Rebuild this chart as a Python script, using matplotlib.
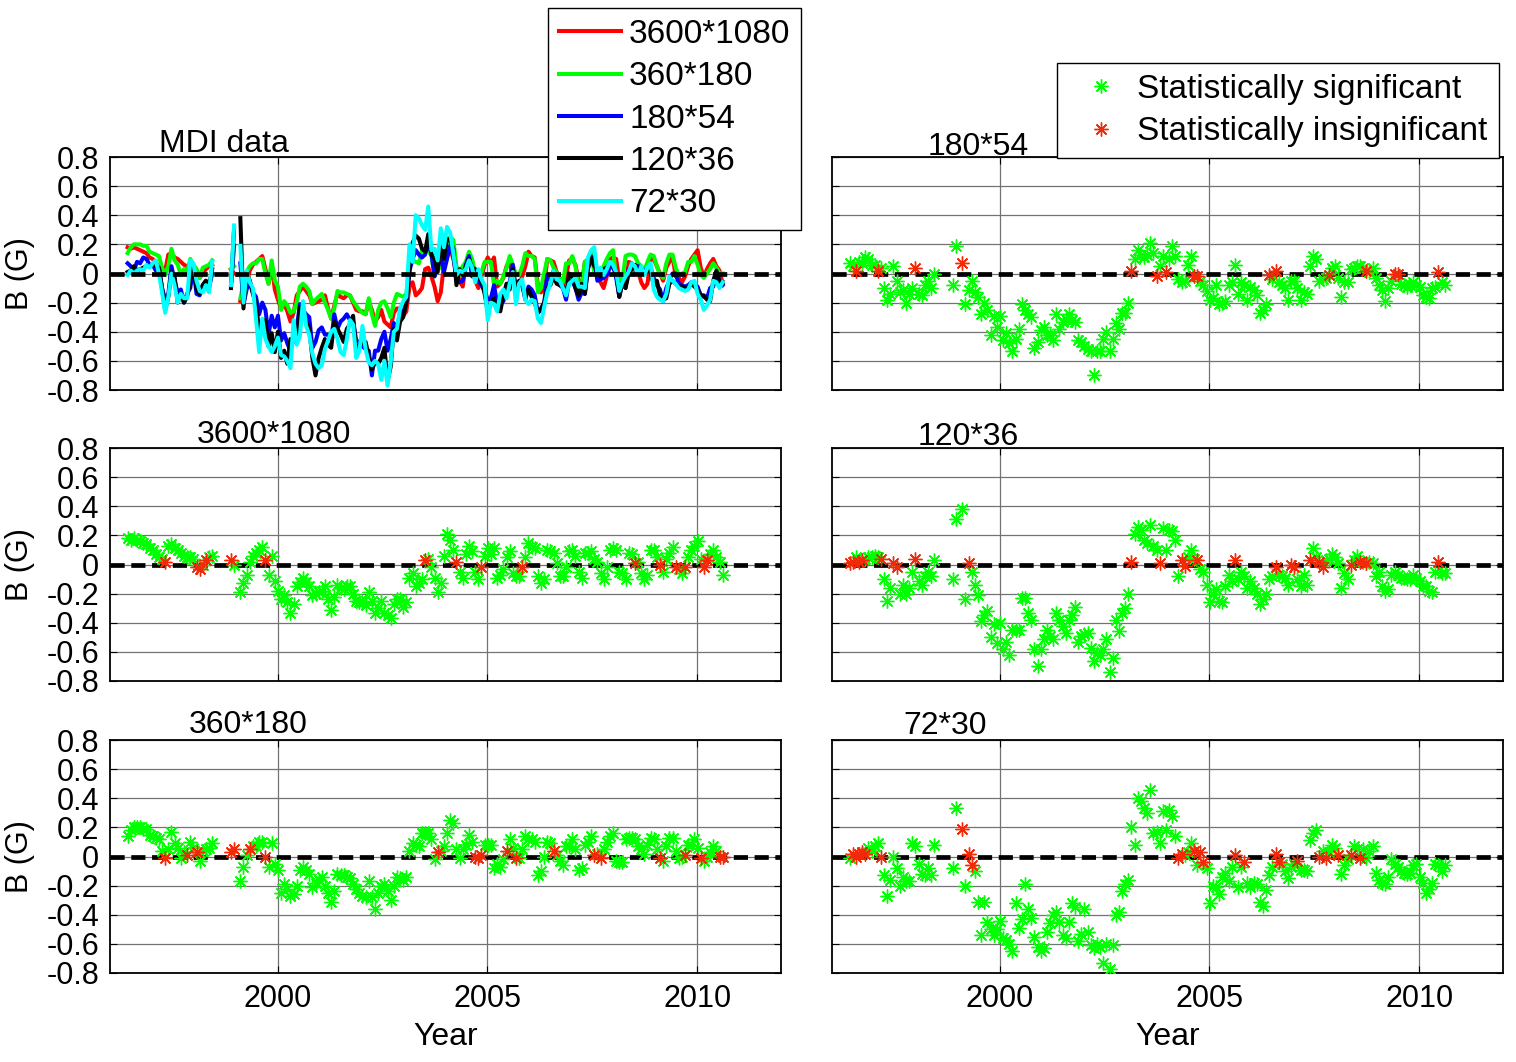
import numpy as np
import matplotlib
matplotlib.use("Agg")
import matplotlib.pyplot as plt
from matplotlib.lines import Line2D

plt.rcParams['font.family'] = ['Liberation Sans', 'DejaVu Sans']
plt.rcParams['axes.unicode_minus'] = False

nan = np.nan
# one value per Carrington rotation, starting with CR 1910; nan = no data
first_rotation_year = 1996.42
rotation_period_yr = 27.2753 / 365.25

b_3600x1080 = [
    0.18, 0.17, 0.18, 0.17, 0.16, 0.15, 0.14, 0.11, 0.10, 0.07,
    0.05, 0.04, 0.02, 0.13, 0.14, 0.11, 0.10, 0.08, 0.06, 0.05,
    0.05, 0.04, -0.02, -0.03, 0.00, 0.03, 0.05, 0.06,
    nan, nan, nan, nan, nan, 0.03, 0.00, nan,
    -0.19, -0.13, -0.07, 0.02, 0.06, 0.08, 0.10, 0.12, 0.03, -0.07, 0.06,
    -0.11, -0.18, -0.24, -0.21, -0.26, -0.33, -0.27, -0.15, -0.12, -0.09, -0.12, -0.15,
    -0.21, -0.20, -0.19, -0.18, -0.15, -0.24, -0.31, -0.22, -0.14, -0.16, -0.17, -0.15, -0.15,
    -0.20, -0.25, -0.26, -0.26, -0.28, -0.19, -0.25, -0.33, -0.30, -0.25, -0.33, -0.35,
    -0.37, -0.27, -0.24, -0.24, -0.29, -0.26, -0.09, -0.06, -0.15, -0.13, -0.10, 0.03,
    0.04, -0.02, -0.09, -0.19, -0.13, 0.06, 0.21, 0.17, 0.10,
    0.02, -0.05, -0.09, 0.07, 0.13, 0.09, -0.05, -0.10, -0.02, 0.06,
    0.11, 0.07, 0.11, -0.09, -0.07, -0.03, 0.05, 0.09, -0.06, -0.08,
    -0.08, -0.02, 0.05, 0.15, 0.12, 0.11, -0.08, -0.13, -0.10, 0.10,
    0.09, 0.08, 0.01, -0.08, -0.08, -0.02, 0.09, 0.10, 0.06, -0.05,
    -0.09, 0.08, 0.08, 0.09, 0.04, 0.02, -0.06, -0.10, -0.02, 0.10,
    0.11, 0.10, -0.05, -0.06, -0.10, 0.08, 0.07, 0.01, 0.02, -0.06,
    -0.10, -0.07, 0.10, 0.10, 0.05, 0.00, -0.05, 0.04, 0.08, 0.12,
    -0.02, -0.03, -0.06, -0.02, 0.05, 0.10, 0.13, 0.16, 0.04, -0.02,
    0.03, 0.07, 0.10, 0.05, 0.02, -0.07]

b_360x180 = [
    0.14, 0.18, 0.20, 0.20, 0.20, 0.19, 0.19, 0.15, 0.14, 0.13,
    0.12, 0.04, -0.01, 0.05, 0.17, 0.09, 0.06, -0.01, 0.03, 0.01,
    0.10, 0.06, 0.03, -0.03, 0.04, 0.05, 0.06, 0.09,
    nan, nan, nan, nan, nan, 0.03, 0.05, nan,
    -0.17, -0.07, 0.01, 0.05, 0.07, 0.07, 0.10, 0.10, 0.00, -0.07, 0.09, -0.05,
    -0.09, -0.25, -0.19, -0.22, -0.27, -0.26, -0.20, -0.09, -0.07, -0.09, -0.12, -0.21,
    -0.18, -0.16, -0.14, -0.20, -0.25, -0.31, -0.24, -0.12, -0.13, -0.13, -0.14, -0.15,
    -0.19, -0.22, -0.25, -0.27, -0.28, -0.17, -0.28, -0.36, -0.25, -0.20, -0.19, -0.24,
    -0.30, -0.20, -0.14, -0.15, -0.16, -0.14, 0.04, 0.09, 0.08, 0.07, 0.16, 0.16,
    0.16, 0.12, -0.02, 0.03, 0.04, 0.07, 0.16, 0.25, 0.23,
    0.05, -0.01, 0.05, 0.08, 0.15, 0.10, 0.00, -0.01, 0.01, 0.08,
    0.08, 0.08, -0.08, -0.05, -0.07, -0.02, 0.04, 0.12, 0.06, -0.01,
    -0.01, 0.05, 0.14, 0.12, 0.12, 0.10, -0.13, -0.10, 0.00, 0.10,
    0.09, 0.04, 0.01, -0.03, -0.06, 0.07, 0.07, 0.12, 0.05, -0.09,
    -0.08, 0.08, 0.10, 0.14, 0.01, 0.02, -0.01, 0.05, 0.10, 0.14,
    0.16, -0.03, -0.04, -0.04, 0.12, 0.13, 0.13, 0.12, 0.07, 0.05,
    0.02, 0.08, 0.13, 0.12, 0.05, -0.01, -0.03, 0.07, 0.13, 0.13,
    0.04, -0.01, 0.00, 0.01, 0.08, 0.08, 0.12, 0.06, -0.01, -0.03,
    0.00, 0.03, 0.07, 0.04, 0.00, 0.00]

b_180x54 = [
    0.07, 0.05, 0.02, 0.08, 0.07, 0.11, 0.10, 0.06, 0.06, 0.02,
    0.04, -0.10, -0.18, -0.14, 0.05, -0.05, -0.13, -0.11, -0.20, -0.14,
    -0.10, 0.04, -0.14, -0.15, -0.08, -0.05, -0.10, 0.00,
    nan, nan, nan, nan, nan, -0.08, 0.19, nan,
    0.07, -0.21, -0.11, -0.05, -0.13, -0.16, -0.28, -0.20, -0.25, -0.42, -0.29, -0.37,
    -0.29, -0.46, -0.41, -0.48, -0.53, -0.45, -0.38, -0.21, -0.25, -0.28, -0.30, -0.51,
    -0.47, -0.39, -0.37, -0.42, -0.42, -0.46, -0.28, -0.38, -0.33, -0.31, -0.28, -0.32,
    -0.33, -0.46, -0.47, -0.50, -0.52, -0.53, -0.70, -0.53, -0.53, -0.45, -0.40, -0.53,
    -0.45, -0.34, -0.38, -0.27, -0.27, -0.20, 0.02, 0.10, 0.16, 0.13, 0.11, 0.13,
    0.21, 0.14, -0.02, 0.05, 0.12, 0.01, 0.10, 0.19, 0.12,
    -0.04, -0.06, -0.05, 0.06, 0.12, -0.02, -0.02, -0.05, -0.08, -0.12,
    -0.18, -0.17, -0.08, -0.21, -0.20, -0.19, -0.08, -0.06, 0.06, -0.14,
    -0.06, -0.08, -0.18, -0.09, -0.11, -0.15, -0.27, -0.25, -0.21, -0.01,
    -0.04, 0.02, -0.06, -0.08, -0.10, -0.18, -0.05, -0.05, -0.10, -0.18,
    -0.13, -0.14, 0.05, 0.12, 0.10, -0.05, -0.04, -0.03, -0.01, 0.04,
    0.05, -0.03, -0.16, -0.06, -0.06, 0.03, 0.04, 0.05, 0.05, 0.04,
    0.02, 0.01, 0.04, -0.03, -0.08, -0.11, -0.19, -0.10, -0.05, 0.00,
    0.00, -0.07, -0.08, -0.09, -0.08, -0.06, -0.08, -0.09, -0.15, -0.16,
    -0.17, -0.10, -0.09, 0.01, -0.06, -0.08]

b_120x36 = [
    0.01, 0.02, 0.05, 0.02, 0.03, 0.04, 0.05, 0.05, 0.06, 0.05,
    0.04, -0.10, -0.25, -0.16, 0.01, -0.02, -0.20, -0.14, -0.20, -0.16,
    -0.05, 0.04, -0.11, -0.14, -0.08, -0.05, -0.08, 0.03,
    nan, nan, nan, nan, nan, -0.10, 0.31, nan,
    0.38, -0.24, 0.01, -0.05, -0.14, -0.21, -0.39, -0.35, -0.32, -0.50, -0.41, -0.54,
    -0.40, -0.58, -0.53, -0.62, -0.45, -0.45, -0.45, -0.23, -0.23, -0.33, -0.38, -0.58,
    -0.70, -0.58, -0.51, -0.45, -0.49, -0.51, -0.33, -0.38, -0.42, -0.47, -0.38, -0.35,
    -0.29, -0.53, -0.49, -0.48, -0.47, -0.57, -0.66, -0.61, -0.62, -0.58, -0.51, -0.74,
    -0.64, -0.38, -0.46, -0.33, -0.30, -0.20, 0.02, 0.21, 0.26, 0.24, 0.17, 0.15,
    0.27, 0.13, 0.10, 0.01, 0.25, 0.10, 0.24, 0.23, 0.17,
    -0.08, 0.03, -0.01, 0.05, 0.10, 0.04, 0.03, -0.03, -0.05, -0.14,
    -0.26, -0.20, -0.17, -0.25, -0.26, -0.15, -0.07, -0.11, 0.03, -0.10,
    -0.05, -0.08, -0.16, -0.11, -0.16, -0.20, -0.27, -0.24, -0.20, -0.10,
    -0.08, -0.02, -0.07, -0.08, -0.09, -0.14, 0.00, -0.02, -0.10, -0.15,
    -0.07, -0.14, 0.03, 0.11, 0.05, 0.02, -0.02, 0.03, 0.04, 0.07,
    0.05, 0.01, -0.16, -0.06, -0.10, 0.00, 0.03, 0.06, 0.02, 0.02,
    0.01, 0.02, 0.01, -0.08, -0.05, -0.15, -0.18, -0.17, -0.07, -0.05,
    -0.07, -0.09, -0.09, -0.10, -0.10, -0.07, -0.09, -0.11, -0.15, -0.15,
    -0.18, -0.19, -0.05, 0.02, -0.06, -0.06]

b_72x30 = [
    -0.01, 0.02, 0.00, 0.02, 0.03, 0.02, 0.06, 0.04, 0.07, 0.09,
    0.00, -0.13, -0.27, -0.16, 0.00, -0.08, -0.20, -0.14, -0.17, -0.17,
    0.09, 0.07, -0.05, -0.12, -0.13, -0.08, -0.13, 0.08,
    nan, nan, nan, nan, nan, -0.08, 0.33, nan,
    0.19, -0.20, 0.02, -0.06, -0.10, -0.31, -0.54, -0.31, -0.45, -0.50, -0.54, -0.50,
    -0.44, -0.56, -0.57, -0.60, -0.65, -0.32, -0.49, -0.43, -0.19, -0.36, -0.42, -0.55,
    -0.62, -0.65, -0.63, -0.52, -0.46, -0.40, -0.38, -0.45, -0.54, -0.56, -0.45, -0.32,
    -0.35, -0.58, -0.53, -0.36, -0.52, -0.61, -0.63, -0.60, -0.62, -0.73, -0.60, -0.77,
    -0.61, -0.40, -0.38, -0.24, -0.19, -0.16, 0.20, 0.08, 0.40, 0.38, 0.33, 0.30,
    0.46, 0.16, 0.17, 0.09, 0.31, 0.18, 0.32, 0.28, 0.14,
    -0.01, 0.02, 0.01, 0.03, 0.09, 0.04, -0.06, 0.03, -0.04, -0.08,
    -0.32, -0.20, -0.21, -0.26, -0.14, -0.11, -0.17, -0.07, 0.01, -0.21,
    -0.07, -0.04, -0.18, -0.21, -0.18, -0.19, -0.31, -0.34, -0.23, -0.13,
    -0.07, 0.02, -0.04, -0.05, -0.10, -0.15, -0.07, -0.05, -0.03, -0.09,
    -0.09, -0.10, 0.11, 0.16, 0.18, 0.00, 0.04, -0.01, 0.03, 0.08,
    0.06, 0.01, -0.12, -0.06, -0.02, 0.01, 0.07, 0.05, -0.01, 0.05,
    -0.01, 0.04, 0.07, -0.11, -0.16, -0.18, -0.19, -0.14, -0.02, -0.05,
    -0.07, -0.10, -0.11, -0.12, -0.11, -0.06, -0.05, -0.14, -0.18, -0.25,
    -0.22, -0.18, -0.05, -0.06, -0.10, -0.06]

# rotation indices (from CR 1910) whose value is statistically insignificant
insig_3600x1080 = [12, 22, 23, 25, 33, 44, 95, 105, 113, 126, 162, 170, 175, 178, 184, 185]
insig_360x180 = [12, 19, 22, 33, 34, 39, 44, 99, 111, 112, 113, 121, 124, 136, 149, 151,
                 170, 178, 183, 189, 190]
insig_180x54 = [2, 9, 21, 36, 90, 98, 101, 110, 111, 134, 136, 153, 165, 174, 175, 188]
insig_120x36 = [0, 1, 3, 4, 10, 14, 15, 21, 38, 90, 99, 106, 107, 111, 123, 136, 141, 142,
                147, 150, 151, 160, 163, 165, 188]
insig_72x30 = [1, 2, 3, 4, 5, 10, 36, 38, 39, 105, 106, 110, 112, 113, 123, 126, 136, 137,
               143, 150, 152, 156, 160, 163]

series_names = ['3600*1080', '360*180', '180*54', '120*36', '72*30']
series_values = [b_3600x1080, b_360x180, b_180x54, b_120x36, b_72x30]
series_insig = [insig_3600x1080, insig_360x180, insig_180x54, insig_120x36, insig_72x30]
line_colors = ['#ff0000', '#00ff00', '#0000ff', '#000000', '#00ffff']

x_ticks = [2000, 2005, 2010]
y_ticks = [-0.8, -0.6, -0.4, -0.2, 0.0, 0.2, 0.4, 0.6, 0.8]
y_tick_labels = ['-0.8', '-0.6', '-0.4', '-0.2', '0', '0.2', '0.4', '0.6', '0.8']

W, H = 1516, 1062
fig = plt.figure(figsize=(W / 100, H / 100), dpi=100)

col_left = [110, 832]
col_w = 671
row_top = [157, 448, 740]
row_h = 233

def make_ax(col, row):
    l = col_left[col] / W
    b = 1 - (row_top[row] + row_h) / H
    ax = fig.add_axes([l, b, col_w / W, row_h / H])
    ax.set_xlim(1996, 2012)
    ax.set_ylim(-0.8, 0.8)
    ax.set_xticks(x_ticks)
    ax.set_yticks(y_ticks)
    ax.grid(True, color='0.45', lw=0.9)
    ax.set_axisbelow(True)
    ax.tick_params(direction='in', length=5, width=0.8, top=True, right=True,
                   labelsize=22, colors='black', pad=8)
    if col == 0:
        ax.set_yticklabels(y_tick_labels)
        ax.set_ylabel('B (G)', fontsize=22)
        ax.yaxis.set_label_coords(-0.112, 0.5)
    else:
        ax.set_yticklabels([])
    if row == 2:
        ax.set_xticklabels([str(v) for v in x_ticks])
        ax.set_xlabel('Year', fontsize=23, labelpad=6)
    else:
        ax.set_xticklabels([])
    for s in ax.spines.values():
        s.set_linewidth(1.3)
    ax.axhline(0, color='black', lw=3.4, ls=(0, (3.0, 1.4)), zorder=3)
    return ax

years = first_rotation_year + rotation_period_yr * np.arange(len(b_3600x1080))

# top-left: all series as lines
ax0 = make_ax(0, 0)
handles = []
for name, vals, c in zip(series_names, series_values, line_colors):
    h, = ax0.plot(years, vals, color=c, lw=2.9, label=name, zorder=2)
    handles.append(h)
ax0.text(0.17, 1.02, 'MDI data', transform=ax0.transAxes, ha='center',
         va='baseline', fontsize=23)

panel_pos = {'3600*1080': (0, 1), '360*180': (0, 2), '180*54': (1, 0),
             '120*36': (1, 1), '72*30': (1, 2)}
title_x = {'3600*1080': 0.245, '360*180': 0.206, '180*54': 0.218,
           '120*36': 0.203, '72*30': 0.168}
title_y = {'3600*1080': 1.021, '360*180': 1.028, '180*54': 1.009,
           '120*36': 1.013, '72*30': 1.026}

green = '#00ff00'
red = '#f02a08'
star = (8, 2, 0)
msize = 10

for name, vals, insig in zip(series_names, series_values, series_insig):
    col, row = panel_pos[name]
    ax = make_ax(col, row)
    v = np.array(vals, dtype=float)
    mask_ins = np.zeros(len(v), dtype=bool)
    mask_ins[insig] = True
    ok = ~np.isnan(v)
    ax.plot(years[ok & ~mask_ins], v[ok & ~mask_ins], ls='none', marker=star,
            ms=msize, mew=1.0, color=green, zorder=4)
    ax.plot(years[ok & mask_ins], v[ok & mask_ins], ls='none', marker=star,
            ms=msize, mew=1.0, color=red, zorder=5)
    ax.text(title_x[name], title_y[name], name, transform=ax.transAxes,
            ha='center', va='baseline', fontsize=23)

leg1 = fig.legend(handles=handles, loc='upper left',
                  bbox_to_anchor=(548 / W, 1 - 8 / H), borderaxespad=0,
                  fontsize=24, frameon=True, fancybox=False, edgecolor='black',
                  framealpha=1, handlelength=1.85, handletextpad=0.25,
                  labelspacing=0.34, borderpad=0.33)
leg1.get_frame().set_linewidth(1.0)

sig_handles = [Line2D([], [], ls='none', marker=star, ms=msize, mew=1.0, color=green),
               Line2D([], [], ls='none', marker=star, ms=msize, mew=1.0, color=red)]
leg2 = fig.legend(handles=sig_handles,
                  labels=['Statistically significant', 'Statistically insignificant'],
                  loc='upper left', bbox_to_anchor=(1057 / W, 1 - 63 / H),
                  borderaxespad=0, fontsize=24, frameon=True, fancybox=False,
                  edgecolor='black', framealpha=1, handlelength=2.0,
                  handletextpad=0.08, labelspacing=0.34, borderpad=0.33)
leg2.get_frame().set_linewidth(1.0)

fig.savefig('out.png', dpi=100)
